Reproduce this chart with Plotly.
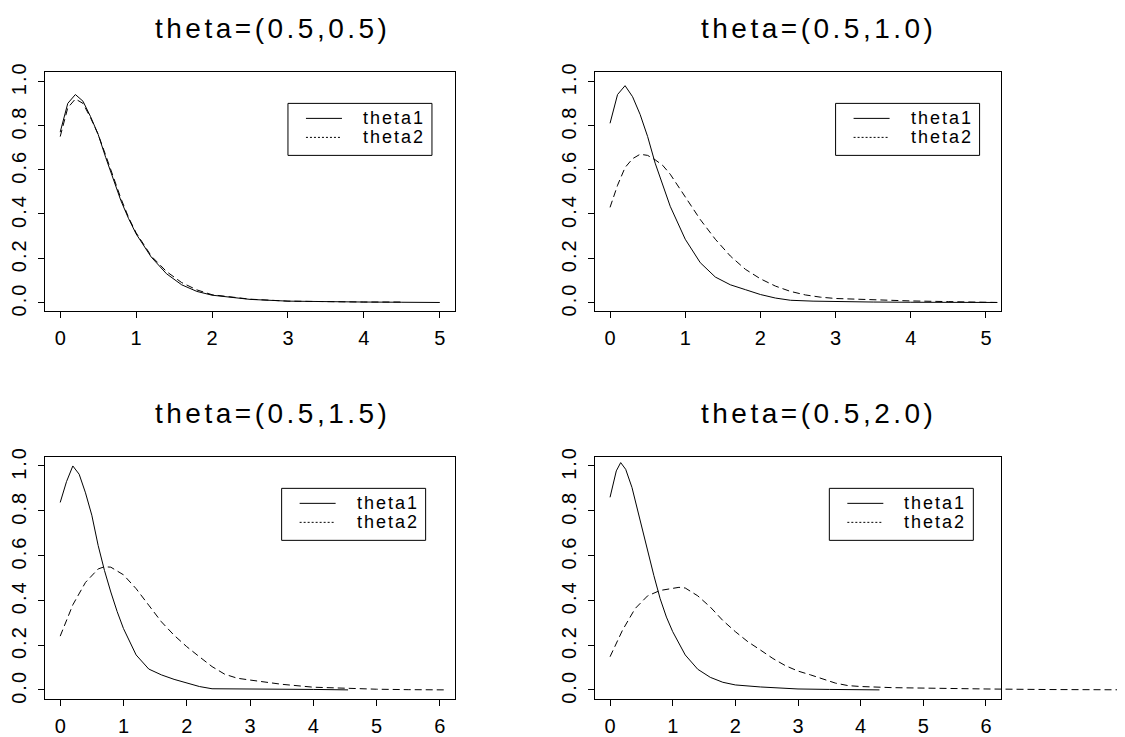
import plotly.graph_objects as go

# ---------------- data ----------------
titles = ["theta=(0.5,0.5)", "theta=(0.5,1.0)", "theta=(0.5,1.5)", "theta=(0.5,2.0)"]
series_names = ["theta1", "theta2"]

p1_x1 = [0, 0.1, 0.2, 0.3, 0.4, 0.5, 0.6, 0.7, 0.8, 0.9, 1.0, 1.2, 1.4, 1.6, 1.8, 2.0, 2.5, 3.0, 3.5, 4.0, 4.5, 5.0]
p1_y1 = [0.77, 0.90, 0.94, 0.91, 0.84, 0.76, 0.655, 0.555, 0.46, 0.38, 0.31, 0.205, 0.13, 0.08, 0.05, 0.033, 0.014, 0.006, 0.003, 0.002, 0.001, 0.0]
p1_x2 = [0, 0.1, 0.2, 0.3, 0.4, 0.5, 0.6, 0.7, 0.8, 0.9, 1.0, 1.2, 1.4, 1.6, 1.8, 2.0, 2.5, 3.0, 3.5, 4.0, 4.5]
p1_y2 = [0.75, 0.88, 0.92, 0.90, 0.835, 0.76, 0.665, 0.565, 0.47, 0.385, 0.315, 0.21, 0.14, 0.09, 0.057, 0.035, 0.015, 0.006, 0.003, 0.002, 0.002]

p2_x1 = [0, 0.1, 0.2, 0.3, 0.4, 0.5, 0.6, 0.7, 0.8, 1.0, 1.2, 1.4, 1.6, 1.8, 2.0, 2.2, 2.4, 2.7, 3.0, 3.5, 4.0, 4.5, 5.15]
p2_y1 = [0.81, 0.94, 0.98, 0.93, 0.85, 0.75, 0.63, 0.53, 0.435, 0.286, 0.18, 0.115, 0.08, 0.058, 0.036, 0.02, 0.01, 0.006, 0.004, 0.002, 0.001, 0.001, 0.0]
p2_x2 = [0, 0.1, 0.2, 0.3, 0.4, 0.5, 0.6, 0.7, 0.8, 1.0, 1.2, 1.4, 1.6, 1.8, 2.0, 2.2, 2.4, 2.6, 2.8, 3.0, 3.5, 4.0, 4.5, 5.15]
p2_y2 = [0.43, 0.53, 0.61, 0.65, 0.67, 0.665, 0.645, 0.62, 0.58, 0.48, 0.375, 0.286, 0.21, 0.15, 0.107, 0.074, 0.05, 0.034, 0.024, 0.018, 0.012, 0.007, 0.004, 0.0]

p3_x1 = [0, 0.1, 0.2, 0.3, 0.4, 0.5, 0.6, 0.7, 0.8, 0.9, 1.0, 1.2, 1.4, 1.6, 1.8, 2.0, 2.2, 2.4, 3.0, 3.5, 4.0, 4.55]
p3_y1 = [0.837, 0.93, 1.0, 0.963, 0.88, 0.78, 0.645, 0.533, 0.437, 0.35, 0.274, 0.156, 0.093, 0.067, 0.047, 0.03, 0.015, 0.005, 0.005, 0.002, 0.002, 0.0]
p3_x2 = [0, 0.2, 0.4, 0.6, 0.7, 0.8, 1.0, 1.2, 1.4, 1.6, 1.8, 2.0, 2.2, 2.4, 2.6, 2.8, 3.0, 3.5, 4.0, 4.5, 5.0, 5.5, 6.08]
p3_y2 = [0.24, 0.38, 0.48, 0.54, 0.55, 0.548, 0.514, 0.452, 0.378, 0.304, 0.244, 0.193, 0.148, 0.104, 0.07, 0.052, 0.044, 0.025, 0.012, 0.007, 0.003, 0.001, 0.0]

p4_x1 = [0, 0.1, 0.17, 0.25, 0.35, 0.5, 0.6, 0.7, 0.8, 0.9, 1.0, 1.2, 1.4, 1.6, 1.8, 2.0, 2.4, 3.0, 3.5, 4.3]
p4_y1 = [0.86, 0.978, 1.015, 0.985, 0.904, 0.733, 0.615, 0.51, 0.407, 0.325, 0.26, 0.156, 0.092, 0.056, 0.034, 0.022, 0.013, 0.004, 0.002, 0.0]
p4_x2 = [0, 0.2, 0.4, 0.6, 0.8, 1.0, 1.1, 1.2, 1.4, 1.6, 1.8, 2.0, 2.2, 2.4, 2.6, 2.8, 3.0, 3.2, 3.4, 3.6, 3.8, 4.0, 4.5, 5.0, 6.0, 7.0, 8.5]
p4_y2 = [0.148, 0.267, 0.363, 0.42, 0.444, 0.455, 0.458, 0.455, 0.42, 0.37, 0.31, 0.26, 0.215, 0.178, 0.14, 0.108, 0.084, 0.067, 0.047, 0.03, 0.019, 0.015, 0.01, 0.007, 0.004, 0.0015, 0.0]

x_ticks_top = [0, 1, 2, 3, 4, 5]
x_ticks_bottom = [0, 1, 2, 3, 4, 5, 6]
y_ticks = [0.0, 0.2, 0.4, 0.6, 0.8, 1.0]
y_tick_labels = ["0.0", "0.2", "0.4", "0.6", "0.8", "1.0"]
legend_anchor_x = [3.0, 3.0, 3.5, 3.5]
legend_anchor_y = 0.9

# ---------------- layout geometry (page pixels) ----------------
PAGE_W, PAGE_H = 1125, 737
BODY = 8                      # default page margin around the plot div
W, H = PAGE_W - BODY, PAGE_H - BODY
FONT = "Liberation Sans, Arial, sans-serif"
box_x = [(45, 455), (595, 1001), (45, 455), (595, 1001)]
box_y = [(63, 309), (63, 309), (459, 708), (459, 708)]
x_ranges = [[-0.2, 5.2], [-0.2, 5.2], [-0.24, 6.24], [-0.24, 6.24]]
y_range = [-0.04, 1.04]
title_pos = [(272, 18), (818, 18), (272, 414), (818, 414)]


def fx(px):
    return (px - BODY) / W


def fy(py):
    return 1 - (py - BODY) / H


def spaced(t, s):
    return '<span style="letter-spacing:%spx">%s</span>' % (s, t)


fig = go.Figure()

solid = dict(color="black", width=1)
dashed = dict(color="black", width=1, dash="7px,4px")

panels = [(p1_x1, p1_y1, p1_x2, p1_y2), (p2_x1, p2_y1, p2_x2, p2_y2),
          (p3_x1, p3_y1, p3_x2, p3_y2), (p4_x1, p4_y1, p4_x2, p4_y2)]

for i, (xa, ya, xb, yb) in enumerate(panels):
    ax = "" if i == 0 else str(i + 1)
    fig.add_trace(go.Scatter(x=xa, y=ya, mode="lines", line=solid, name=series_names[0],
                             showlegend=False, xaxis="x" + ax, yaxis="y" + ax))
    if i < 3:
        fig.add_trace(go.Scatter(x=xb, y=yb, mode="lines", line=dashed, name=series_names[1],
                                 showlegend=False, xaxis="x" + ax, yaxis="y" + ax))
    else:
        # last panel: the dashed curve runs past the frame in the reference
        fig.add_trace(go.Scatter(x=xb, y=yb, mode="lines", line=dashed, name=series_names[1],
                                 showlegend=False, xaxis="x5", yaxis="y5"))

axis_common = dict(showline=True, mirror=True, linecolor="black", linewidth=1,
                   ticks="outside", ticklen=6, tickcolor="black", tickwidth=1,
                   showgrid=False, zeroline=False,
                   tickfont=dict(family=FONT, size=20, color="black"))

layout = dict(width=W, height=H, margin=dict(l=0, r=0, t=0, b=0),
              paper_bgcolor="white", plot_bgcolor="rgba(0,0,0,0)", showlegend=False)

for i in range(4):
    k = "" if i == 0 else str(i + 1)
    xt = x_ticks_top if i < 2 else x_ticks_bottom
    layout["xaxis" + k] = dict(axis_common, domain=[fx(box_x[i][0]), fx(box_x[i][1])],
                               range=x_ranges[i], tickvals=xt, ticktext=[str(v) for v in xt],
                               anchor="y" + k, ticklabelstandoff=3)
    layout["yaxis" + k] = dict(axis_common, domain=[fy(box_y[i][1]), fy(box_y[i][0])],
                               range=y_range, tickvals=y_ticks,
                               ticktext=[spaced(t, 2) for t in y_tick_labels],
                               tickangle=-90, anchor="x" + k, ticklabelstandoff=4)

# overflow axis for panel 4 (same scale, reaching the page edge)
unit4 = (box_x[3][1] - box_x[3][0]) / (x_ranges[3][1] - x_ranges[3][0])
x5_max = x_ranges[3][0] + (PAGE_W - box_x[3][0]) / unit4
layout["xaxis5"] = dict(domain=[fx(box_x[3][0]), 1.0], range=[x_ranges[3][0], x5_max],
                        visible=False, anchor="y5")
layout["yaxis5"] = dict(domain=[fy(box_y[3][1]), fy(box_y[3][0])], range=y_range,
                        visible=False, anchor="x5")

fig.update_layout(**layout)

# titles
for i, t in enumerate(titles):
    fig.add_annotation(text=spaced(t, 3.5), xref="paper", yref="paper",
                       x=fx(title_pos[i][0]), y=fy(title_pos[i][1]),
                       xanchor="center", yanchor="middle", showarrow=False,
                       font=dict(family=FONT, size=28, color="black"))

# legends (one per panel, anchored at data coordinates like R's legend(x, y))
LEG_W, LEG_H = 144, 52
rows = [(-15, None), (-34, "2px,2px")]
for i in range(4):
    k = "" if i == 0 else str(i + 1)
    xr, yr = "x" + k, "y" + k
    ax0 = legend_anchor_x[i]
    fig.add_shape(type="rect", xref=xr, yref=yr, xsizemode="pixel", ysizemode="pixel",
                  xanchor=ax0, yanchor=legend_anchor_y, x0=0, x1=LEG_W, y0=0, y1=-LEG_H,
                  line=dict(color="black", width=1), fillcolor="white")
    for r, (dy, dash) in enumerate(rows):
        ln = dict(color="black", width=1)
        if dash:
            ln["dash"] = dash
        fig.add_shape(type="line", xref=xr, yref=yr, xsizemode="pixel", ysizemode="pixel",
                      xanchor=ax0, yanchor=legend_anchor_y, x0=18, x1=54, y0=dy, y1=dy, line=ln)
        fig.add_annotation(text=spaced(series_names[r], 2), xref=xr, yref=yr,
                           x=ax0, y=legend_anchor_y, xshift=73, yshift=dy,
                           xanchor="left", yanchor="middle", showarrow=False,
                           font=dict(family=FONT, size=18, color="black"))

fig.write_html("out.html")
